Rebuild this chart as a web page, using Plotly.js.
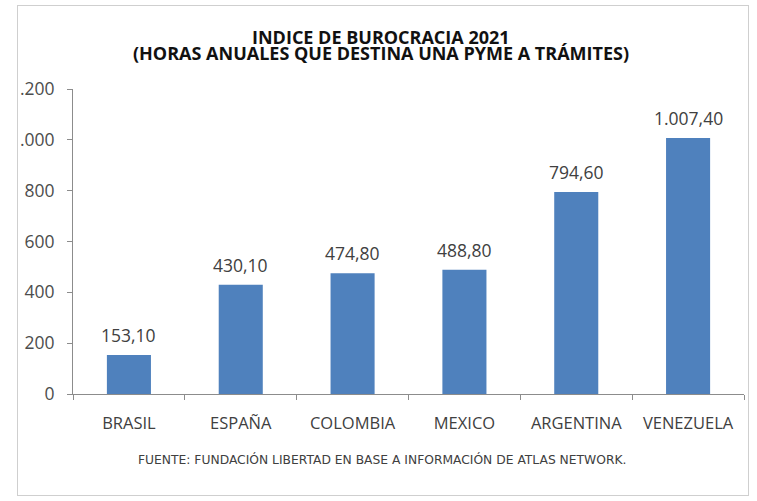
<!DOCTYPE html>
<html>
<head>
<meta charset="utf-8">
<script src="https://cdn.plot.ly/plotly-3.0.1.min.js"></script>
<style>
  body { margin: 0; background: #fff; }
  #frame {
    position: absolute; left: 17px; top: 5px;
    width: 730px; height: 489px;
    border: 1px solid #cfcfcf; overflow: hidden; background: #fff;
  }
  #chart { position: absolute; left: -18px; top: -6px; width: 757px; height: 501px; }
</style>
</head>
<body>
<div id="frame"><div id="chart"></div></div>
<script>
const paises = ['BRASIL', 'ESPAÑA', 'COLOMBIA', 'MEXICO', 'ARGENTINA', 'VENEZUELA']
const horas = [153.1, 430.1, 474.8, 488.8, 794.6, 1007.4]
const yTicks = [0, 200, 400, 600, 800, 1000, 1200]

const titulo1 = 'INDICE DE BUROCRACIA 2021'
const titulo2 = '(HORAS ANUALES QUE DESTINA UNA PYME A TRÁMITES)'
const fuente = 'FUENTE: FUNDACIÓN LIBERTAD EN BASE A INFORMACIÓN DE ATLAS NETWORK.'

// 1007.4 -> "1.007,40"
const fmt = v => {
  const [ent, dec] = v.toFixed(2).split('.')
  return ent.replace(/\B(?=(\d{3})+(?!\d))/g, '.') + ',' + dec
}

const labels = paises.map((p, i) => ({
  x: p, y: horas[i], text: fmt(horas[i]),
  showarrow: false, yanchor: 'bottom', yshift: 6,
  font: { family: 'Open Sans', size: 17.5, color: '#404040' }
}))

const titleFont = { family: 'Open Sans', size: 18, color: '#111', weight: 700 }

Plotly.newPlot('chart', [{
  type: 'bar',
  x: paises,
  y: horas,
  marker: { color: '#4f81bd' },
  hoverinfo: 'skip'
}], {
  width: 757, height: 501,
  margin: { l: 73, r: 13, t: 89, b: 107 },
  paper_bgcolor: 'rgba(0,0,0,0)',
  plot_bgcolor: 'rgba(0,0,0,0)',
  separators: ',.',
  bargap: 0.606,
  showlegend: false,
  xaxis: {
    type: 'category',
    showline: true, linecolor: '#8c8c8c', linewidth: 1,
    ticks: 'outside', tickson: 'boundaries', ticklen: 5, tickcolor: '#8c8c8c',
    ticklabelstandoff: 14,
    tickfont: { family: 'Open Sans', size: 16.5, color: '#404040' },
    showgrid: false, zeroline: false
  },
  yaxis: {
    range: [0, 1200],
    tickvals: yTicks,
    tickformat: ',d',
    showline: true, linecolor: '#8c8c8c', linewidth: 1,
    ticks: 'outside', ticklen: 5, tickcolor: '#8c8c8c',
    ticklabelstandoff: 9,
    tickfont: { family: 'Open Sans', size: 17.5, color: '#4d4d4d' },
    showgrid: false, zeroline: false
  },
  annotations: [
    ...labels,
    { xref: 'paper', yref: 'paper', x: 0.459, y: 1.17, yanchor: 'middle',
      text: titulo1, showarrow: false, font: titleFont },
    { xref: 'paper', yref: 'paper', x: 0.459, y: 1.117, yanchor: 'middle',
      text: titulo2, showarrow: false, font: titleFont },
    { xref: 'paper', yref: 'paper', x: 0.46, y: -0.214, yanchor: 'middle',
      text: fuente, showarrow: false,
      font: { family: 'DejaVu Sans', size: 12.3, color: '#404040' } }
  ]
}, { staticPlot: true })
</script>
</body>
</html>
